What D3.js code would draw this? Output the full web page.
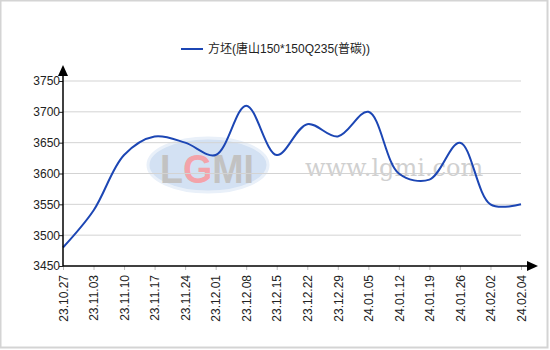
<!DOCTYPE html>
<html lang="zh">
<head>
  <meta charset="UTF-8">
  <title>方坯价格</title>
  <style>
    body { margin: 0; background: #fff; }
    svg { display: block; font-family: Arial, "Liberation Sans", "Noto Sans CJK SC", sans-serif; }
  </style>
</head>
<body>
  <div id="chart"></div>
  <script src="https://d3js.org/d3.v7.min.js"></script>
  <script>
    const dates = ['23.10.27', '23.11.03', '23.11.10', '23.11.17', '23.11.24', '23.12.01', '23.12.08',
      '23.12.15', '23.12.22', '23.12.29', '24.01.05', '24.01.12', '24.01.19', '24.01.26', '24.02.02', '24.02.04']
    const prices = [3480, 3540, 3630, 3660, 3650, 3630, 3710, 3630, 3680, 3660, 3700, 3600, 3590, 3650, 3550, 3550]
    const yTicks = [3450, 3500, 3550, 3600, 3650, 3700, 3750]
    const seriesName = '方坯(唐山150*150Q235(普碳))'

    const width = 550
    const height = 350
    const margin = { top: 81, right: 29, bottom: 84, left: 63 }
    const innerW = width - margin.left - margin.right
    const innerH = height - margin.top - margin.bottom

    const svg = d3.select('#chart').append('svg')
      .attr('width', width)
      .attr('height', height)

    // outer frame
    svg.append('rect')
      .attr('x', 0.5).attr('y', 0.5)
      .attr('width', width - 3).attr('height', height - 3)
      .attr('fill', '#fff')
      .attr('stroke', '#d4d4d4')
      .attr('stroke-width', 2)

    const g = svg.append('g')
      .attr('transform', `translate(${margin.left}, ${margin.top})`)

    const x = d3.scalePoint().domain(dates).range([0, innerW])
    const y = d3.scaleLinear().domain([3450, 3750]).range([innerH, 0])

    // watermark
    const wm = g.append('g')
    wm.append('ellipse')
      .attr('cx', 145).attr('cy', 84)
      .attr('rx', 60).attr('ry', 27)
      .attr('fill', '#d3e1f3')
      .attr('stroke', '#e9f0f9').attr('stroke-width', 3)
    const logo = wm.append('text')
      .attr('x', 97).attr('y', 102)
      .attr('textLength', 94)
      .attr('lengthAdjust', 'spacingAndGlyphs')
      .attr('font-size', 40)
      .attr('font-weight', 'bold')
      .attr('fill', '#c2c2c2')
    logo.append('tspan').text('L')
    logo.append('tspan').attr('fill', '#f3a3aa').text('G')
    logo.append('tspan').text('MI')
    wm.append('text')
      .attr('x', 242).attr('y', 95)
      .attr('font-family', '"DejaVu Serif", "Liberation Serif", serif')
      .attr('font-size', 24)
      .attr('fill', '#d0d0d0')
      .text('www.lgmi.com')

    // grid lines
    g.append('g')
      .selectAll('line')
      .data(yTicks.slice(1))
      .join('line')
      .attr('x1', 0).attr('x2', innerW)
      .attr('y1', d => y(d)).attr('y2', d => y(d))
      .attr('stroke', '#d3d3d3')

    // line
    const line = d3.line()
      .x((d, i) => x(dates[i]))
      .y(d => y(d))
      .curve(d3.curveCatmullRom.alpha(0.5))

    g.append('path')
      .datum(prices)
      .attr('d', line)
      .attr('fill', 'none')
      .attr('stroke', '#1c46b4')
      .attr('stroke-width', 2)

    // y axis
    const yAxis = g.append('g')
      .call(d3.axisLeft(y).tickValues(yTicks).tickSize(4).tickFormat(d3.format('d')))
    yAxis.select('.domain').remove()
    yAxis.selectAll('.tick line').attr('stroke', '#222')
    yAxis.selectAll('.tick text').attr('font-size', 12).attr('fill', '#222').attr('x', -3)

    // x axis
    const xAxis = g.append('g')
      .attr('transform', `translate(0, ${innerH})`)
      .call(d3.axisBottom(x).tickSize(4))
    xAxis.select('.domain').remove()
    xAxis.selectAll('.tick line').attr('stroke', '#bbb')
    xAxis.selectAll('.tick text')
      .attr('font-size', 12)
      .attr('fill', '#222')
      .attr('transform', 'rotate(-90)')
      .attr('text-anchor', 'end')
      .attr('x', -9)
      .attr('y', 0)
      .attr('dy', '0.35em')

    // axis lines with arrows
    g.append('line')
      .attr('x1', 0).attr('x2', 0)
      .attr('y1', innerH).attr('y2', -10)
      .attr('stroke', '#000').attr('stroke-width', 1.5)
    g.append('path')
      .attr('d', `M0,-16 L-5,-5 L5,-5 Z`)
      .attr('fill', '#000')
    g.append('line')
      .attr('x1', 0).attr('x2', innerW + 8)
      .attr('y1', innerH).attr('y2', innerH)
      .attr('stroke', '#000').attr('stroke-width', 1.5)
    g.append('path')
      .attr('d', `M${innerW + 17},${innerH} L${innerW + 6},${innerH - 5} L${innerW + 6},${innerH + 5} Z`)
      .attr('fill', '#000')

    // legend
    const legend = svg.append('g').attr('transform', 'translate(181, 49)')
    legend.append('line')
      .attr('x1', 0).attr('x2', 22)
      .attr('stroke', '#1c46b4').attr('stroke-width', 2)
    legend.append('text')
      .attr('x', 27).attr('dy', '0.35em')
      .attr('font-size', 12)
      .attr('fill', '#222')
      .text(seriesName)
  </script>
</body>
</html>
